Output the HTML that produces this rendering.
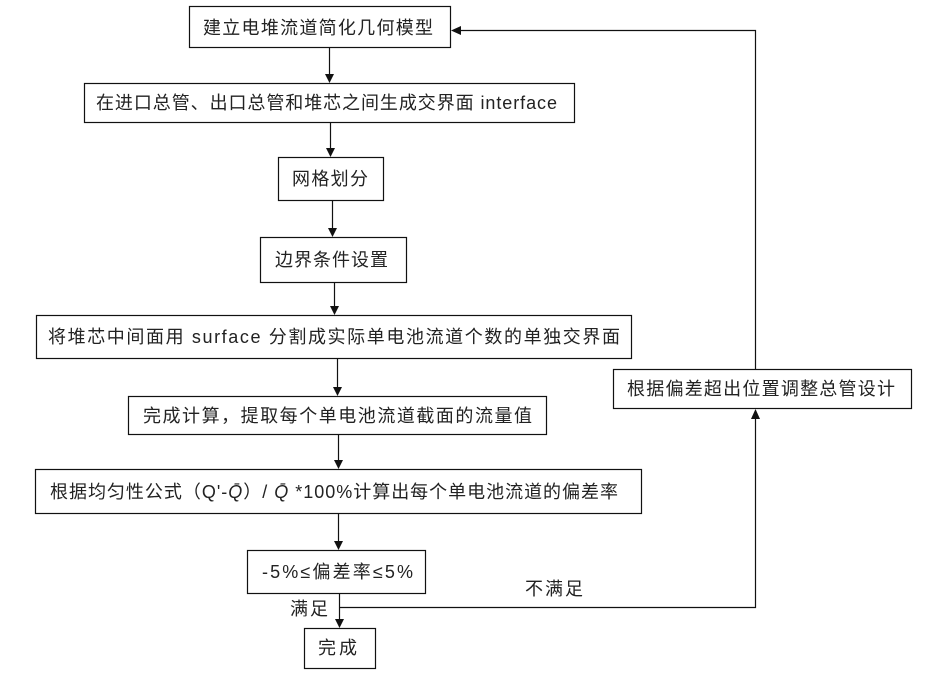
<!DOCTYPE html>
<html>
<head>
<meta charset="utf-8">
<style>
html,body{margin:0;padding:0;background:#fff;}
svg{display:block;}
text{font-family:"Liberation Sans","Noto Sans CJK SC",sans-serif;font-size:18px;fill:#222;}
</style>
</head>
<body>
<svg width="928" height="691" viewBox="0 0 928 691" xmlns="http://www.w3.org/2000/svg">
<g fill="none" stroke="#111" stroke-width="1.2">
  <rect x="189.5" y="6.5" width="261" height="41"/>
  <rect x="84.5" y="83.5" width="490" height="39"/>
  <rect x="278.5" y="157.5" width="105" height="43"/>
  <rect x="260.5" y="237.5" width="146" height="45"/>
  <rect x="36.5" y="315.5" width="595" height="43"/>
  <rect x="128.5" y="396.5" width="418" height="38"/>
  <rect x="35.5" y="469.5" width="606" height="44"/>
  <rect x="247.5" y="550.5" width="178" height="43"/>
  <rect x="304.5" y="628.5" width="71" height="40"/>
  <rect x="613.5" y="369.5" width="298" height="39"/>
  <!-- vertical connectors -->
  <line x1="329.5" y1="48" x2="329.5" y2="76"/>
  <line x1="330.5" y1="123" x2="330.5" y2="150"/>
  <line x1="332.5" y1="201" x2="332.5" y2="230"/>
  <line x1="334.5" y1="283" x2="334.5" y2="308"/>
  <line x1="337.5" y1="359" x2="337.5" y2="389"/>
  <line x1="338.5" y1="435" x2="338.5" y2="462"/>
  <line x1="338.5" y1="514" x2="338.5" y2="543"/>
  <line x1="339.5" y1="594" x2="339.5" y2="621"/>
  <!-- feedback loop -->
  <polyline points="339.5,607.5 755.5,607.5 755.5,418"/>
  <polyline points="755.5,369 755.5,30.5 461,30.5"/>
</g>
<g fill="#111" stroke="none">
  <polygon points="329.5,83 325,74 334,74"/>
  <polygon points="330.5,157 326,148 335,148"/>
  <polygon points="332.5,237 328,228 337,228"/>
  <polygon points="334.5,315 330,306 339,306"/>
  <polygon points="337.5,396 333,387 342,387"/>
  <polygon points="338.5,469 334,460 343,460"/>
  <polygon points="338.5,550 334,541 343,541"/>
  <polygon points="339.5,628 335,619 344,619"/>
  <polygon points="755.5,409 751,419 760,419"/>
  <polygon points="451,30.5 461,26 461,35"/>
</g>
<text x="203" y="34" textLength="230" lengthAdjust="spacing">建立电堆流道简化几何模型</text>
<text x="96" y="109" textLength="461" lengthAdjust="spacing">在进口总管、出口总管和堆芯之间生成交界面 interface</text>
<text x="292" y="185" textLength="76" lengthAdjust="spacing">网格划分</text>
<text x="275" y="266" textLength="113" lengthAdjust="spacing">边界条件设置</text>
<text x="48" y="343" textLength="572" lengthAdjust="spacing">将堆芯中间面用 surface 分割成实际单电池流道个数的单独交界面</text>
<text x="143" y="422" textLength="389" lengthAdjust="spacing">完成计算，提取每个单电池流道截面的流量值</text>
<text x="50" y="498" textLength="568" lengthAdjust="spacing">根据均匀性公式（Q'-<tspan font-style="italic">Q̄</tspan>）/ <tspan font-style="italic">Q̄</tspan> *100%计算出每个单电池流道的偏差率</text>
<text x="262" y="578" textLength="151" lengthAdjust="spacing">-5%≤偏差率≤5%</text>
<text x="318" y="654" textLength="39" lengthAdjust="spacing">完成</text>
<text x="627" y="395" textLength="268" lengthAdjust="spacing">根据偏差超出位置调整总管设计</text>
<text x="290" y="615" textLength="38" lengthAdjust="spacing">满足</text>
<text x="525" y="595" textLength="58" lengthAdjust="spacing">不满足</text>
</svg>
</body>
</html>
